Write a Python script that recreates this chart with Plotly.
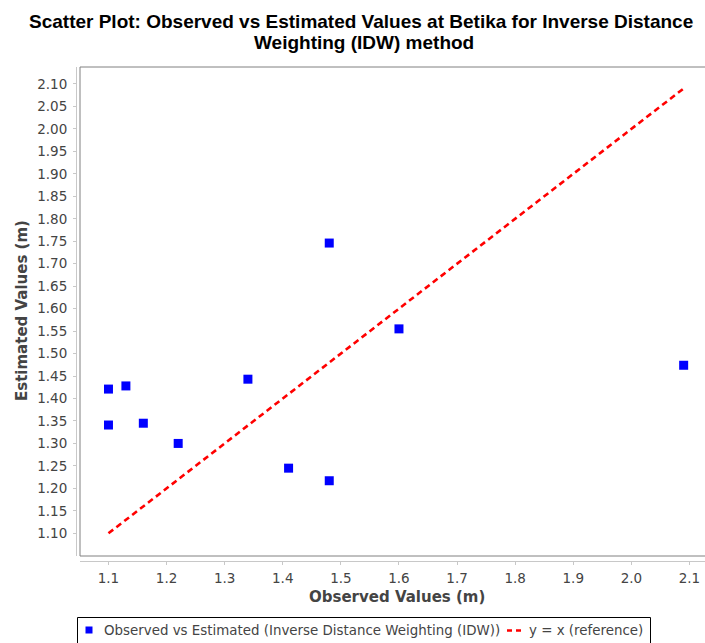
import plotly.graph_objects as go

# ---- data ----
observed = [1.10, 1.10, 1.13, 1.16, 1.22, 1.34, 1.41, 1.48, 1.48, 1.60, 2.09]
estimated = [1.421, 1.341, 1.428, 1.345, 1.300, 1.443, 1.245, 1.217, 1.746, 1.555, 1.474]
ref_x = [1.10, 2.09]
ref_y = [1.10, 2.09]
x_ticks = [1.1, 1.2, 1.3, 1.4, 1.5, 1.6, 1.7, 1.8, 1.9, 2.0, 2.1]
y_ticks = [1.10, 1.15, 1.20, 1.25, 1.30, 1.35, 1.40, 1.45, 1.50, 1.55, 1.60,
           1.65, 1.70, 1.75, 1.80, 1.85, 1.90, 1.95, 2.00, 2.05, 2.10]
title_line1 = "Scatter Plot: Observed vs Estimated Values at Betika for Inverse Distance"
title_line2 = "Weighting (IDW) method"
series_name = "Observed vs Estimated (Inverse Distance Weighting (IDW))"
ref_name = "y = x (reference)"

W, H = 705, 643
px = lambda v: v / W
py = lambda v: 1 - v / H

fig = go.Figure()
fig.add_trace(go.Scatter(
    x=ref_x, y=ref_y, mode="lines", name=ref_name,
    line=dict(color="#ff0000", width=2.6, dash="6px,4px"),
    showlegend=False, hoverinfo="skip"))
fig.add_trace(go.Scatter(
    x=observed, y=estimated, mode="markers", name=series_name,
    marker=dict(symbol="square", size=9, color="#0000ff", line=dict(width=0)),
    showlegend=False))

tick_font = dict(family="DejaVu Sans", size=13.5, color="#444444")

fig.update_layout(
    width=W, height=H,
    margin=dict(l=0, r=0, t=0, b=0),
    paper_bgcolor="white", plot_bgcolor="white",
    showlegend=False,
    xaxis=dict(domain=[px(80), 1.0], range=[1.051, 1.051 + 625 / 581],
               anchor="free", position=(H - 561) / H,
               tickvals=x_ticks, tickformat=".1f",
               showgrid=False, zeroline=False,
               showline=True, linecolor="#c8c8c8", linewidth=1,
               ticks="outside", ticklen=3, tickcolor="#c8c8c8",
               ticklabelstandoff=2,
               tickfont=tick_font),
    yaxis=dict(domain=[(H - 556) / H, (H - 67) / H], range=[1.0495, 2.1378],
               anchor="free", position=px(76),
               tickvals=y_ticks, tickformat=".2f",
               showgrid=False, zeroline=False,
               showline=True, linecolor="#c8c8c8", linewidth=1,
               ticks="outside", ticklen=3, tickcolor="#c8c8c8",
               ticklabelstandoff=3,
               tickfont=tick_font),
)

# title (two lines placed separately for tight line spacing)
title_font = dict(family="Liberation Sans", size=19, color="black", weight="bold")
fig.add_annotation(text=title_line1, xref="paper", yref="paper",
                   x=px(361), y=py(21.5), xanchor="center", yanchor="middle",
                   showarrow=False, font=title_font)
fig.add_annotation(text=title_line2, xref="paper", yref="paper",
                   x=px(364), y=py(42.5), xanchor="center", yanchor="middle",
                   showarrow=False, font=title_font)

# plot area frame (right side falls outside the window)
fig.add_shape(type="rect", xref="paper", yref="paper",
              x0=px(80), x1=1.05, y0=py(556), y1=py(67),
              line=dict(color="#808080", width=1), fillcolor="rgba(0,0,0,0)", layer="above")

axis_title_font = dict(family="DejaVu Sans", size=15, color="#444444", weight="bold")
fig.add_annotation(text="Observed Values (m)", xref="paper", yref="paper",
                   x=px(397), y=py(597), xanchor="center", yanchor="middle",
                   showarrow=False, font=axis_title_font)
fig.add_annotation(text="Estimated Values (m)", xref="paper", yref="paper",
                   x=px(22), y=py(311), xanchor="center", yanchor="middle",
                   textangle=-90, showarrow=False, font=axis_title_font)

# legend box
fig.add_shape(type="rect", xref="paper", yref="paper",
              x0=px(77.5), x1=px(650.5), y0=py(660), y1=py(617.5),
              line=dict(color="black", width=1), fillcolor="white")
fig.add_shape(type="rect", xref="paper", yref="paper",
              x0=px(85.5), x1=px(92.5), y0=py(633.5), y1=py(626.5),
              line=dict(width=0), fillcolor="#0000ff")
fig.add_shape(type="line", xref="paper", yref="paper",
              x0=px(507), x1=px(524), y0=py(630.5), y1=py(630.5),
              line=dict(color="#ff0000", width=2.6, dash="5px,4px"))
legend_font = dict(family="DejaVu Sans", size=13.4, color="#444444")
fig.add_annotation(text=series_name, xref="paper", yref="paper",
                   x=px(102), y=py(630.5), xanchor="left", yanchor="middle",
                   showarrow=False, font=legend_font)
fig.add_annotation(text=ref_name, xref="paper", yref="paper",
                   x=px(527), y=py(630.5), xanchor="left", yanchor="middle",
                   showarrow=False, font=legend_font)

fig.write_html("out.html")
